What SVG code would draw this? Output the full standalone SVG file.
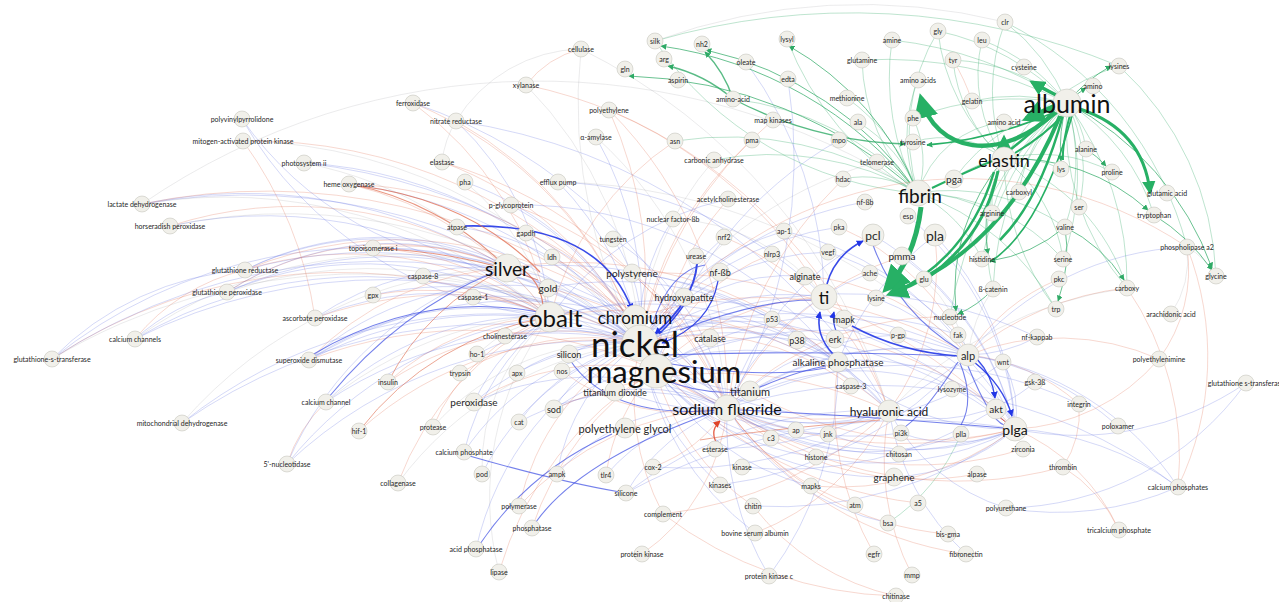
<svg xmlns="http://www.w3.org/2000/svg" width="1279" height="602" viewBox="0 0 1279 602">
<style>
.e path{fill:none}
.b{stroke:#5f6fe0;stroke-opacity:.38;stroke-width:.7}
.r{stroke:#e06a4c;stroke-opacity:.38;stroke-width:.7}
.g{stroke:#8e8e96;stroke-opacity:.3;stroke-width:.6}
.q{stroke:#2faa66;stroke-opacity:.45;stroke-width:.7}
.qa{stroke:#2faa66;stroke-opacity:.8;stroke-width:.9;marker-end:url(#ag)}
.Q{stroke:#27b065;stroke-width:4}
.B{stroke:#2236e6;stroke-width:1.6;stroke-opacity:.9}
.Bm{stroke:#3a4be3;stroke-width:1.1;stroke-opacity:.7}
.R{stroke:#e0442a;stroke-width:1.3;stroke-opacity:.85}
.n circle{fill:#f1f0ea;stroke:#c6c6bd;stroke-width:.6}
.n text{font-family:Lato,'Open Sans',sans-serif;font-size:7px;fill:#262626;text-anchor:middle;dominant-baseline:central}
.f9 text{font-size:9px}
.f10 text{font-size:10px}
.f11 text{font-size:11px}
.f12 text{font-size:12px}
.f14 text{font-size:14px}
.f16 text{font-size:16px}
.f17 text{font-size:17px}
.f18 text{font-size:18px}
.f19 text{font-size:19px}
.f24 text{font-size:24px}
.f25 text{font-size:25px}
.f31 text{font-size:31px}
.f35 text{font-size:35px}
.big text{fill:#111}
</style>
<defs>
<marker id="ag" viewBox="0 0 10 10" refX="9" refY="5" markerWidth="6" markerHeight="6" markerUnits="userSpaceOnUse" orient="auto"><path d="M0,0L10,5L0,10z" fill="#2faa66"/></marker>
<marker id="agT" viewBox="0 0 10 10" refX="8" refY="5" markerWidth="4.5" markerHeight="4.5" orient="auto"><path d="M0,0L10,5L0,10z" fill="#27b065"/></marker>
<marker id="agB" viewBox="0 0 10 10" refX="8" refY="5" markerWidth="5.5" markerHeight="5.5" orient="auto"><path d="M0,0L10,5L0,10z" fill="#27b065"/></marker>
<marker id="ab" viewBox="0 0 10 10" refX="9" refY="5" markerWidth="7" markerHeight="7" markerUnits="userSpaceOnUse" orient="auto"><path d="M0,0L10,5L0,10z" fill="#2236e6"/></marker>
<marker id="ar" viewBox="0 0 10 10" refX="9" refY="5" markerWidth="7" markerHeight="7" markerUnits="userSpaceOnUse" orient="auto"><path d="M0,0L10,5L0,10z" fill="#e0442a"/></marker>
</defs>
<rect width="1279" height="602" fill="#fff"/>
<g id="connectors" class="e">
<path class="r" d="M52 359A520 520 0 0 1 550 317"/>
<path class="b" d="M52 359A500 500 0 0 1 507 268"/>
<path class="g" d="M52 359A600 600 0 0 1 640 343"/>
<path class="b" d="M52 359A300 300 0 0 1 245 270"/>
<path class="b" d="M52 359A600 600 0 0 1 635 318"/>
<path class="b" d="M135 339A200 200 0 0 1 227 292"/>
<path class="b" d="M135 339A450 450 0 0 1 550 317"/>
<path class="g" d="M135 339A450 450 0 0 1 507 268"/>
<path class="b" d="M135 339A550 550 0 0 1 640 343"/>
<path class="r" d="M135 339A200 200 0 0 1 245 270"/>
<path class="b" d="M142 204A600 600 0 0 1 640 343"/>
<path class="g" d="M142 204A500 500 0 0 1 550 317"/>
<path class="b" d="M142 204A500 500 0 0 1 507 268"/>
<path class="r" d="M142 204A600 600 0 0 1 635 318"/>
<path class="g" d="M142 204A700 700 0 0 1 918 193"/>
<path class="b" d="M170 226A450 450 0 0 1 550 317"/>
<path class="g" d="M170 226A550 550 0 0 1 640 343"/>
<path class="r" d="M170 226A400 400 0 0 1 507 268"/>
<path class="r" d="M245 270A350 350 0 0 1 550 317"/>
<path class="b" d="M245 270A450 450 0 0 1 640 343"/>
<path class="b" d="M245 270A300 300 0 0 1 507 268"/>
<path class="r" d="M245 270A400 400 0 0 1 635 318"/>
<path class="b" d="M245 270A300 300 0 0 1 548 288"/>
<path class="b" d="M227 292A350 350 0 0 1 550 317"/>
<path class="b" d="M227 292A400 400 0 0 1 640 343"/>
<path class="r" d="M227 292A300 300 0 0 1 507 268"/>
<path class="b" d="M227 292A300 300 0 0 1 548 288"/>
<path class="g" d="M227 292A450 450 0 0 1 655 370"/>
<path class="r" d="M243 141A400 400 0 0 1 315 318"/>
<path class="b" d="M242 119A400 400 0 0 0 550 317"/>
<path class="b" d="M242 119A350 350 0 0 0 507 268"/>
<path class="r" d="M243 141A500 500 0 0 1 635 318"/>
<path class="g" d="M243 141A500 500 0 0 1 655 370"/>
<path class="b" d="M304 163A450 450 0 0 1 640 343"/>
<path class="g" d="M304 163A400 400 0 0 1 550 317"/>
<path class="b" d="M304 163A600 600 0 0 1 727 408"/>
<path class="r" d="M349 184A350 350 0 0 1 550 317"/>
<path class="r" d="M349 184A300 300 0 0 1 507 268" style="stroke-opacity:.7;stroke-width:1.1"/>
<path class="b" d="M349 184A450 450 0 0 1 640 343"/>
<path class="r" d="M349 184A400 400 0 0 1 635 318"/>
<path class="r" d="M373 248A300 300 0 0 1 550 317"/>
<path class="b" d="M373 248A400 400 0 0 1 640 343"/>
<path class="r" d="M373 248A250 250 0 0 1 507 268"/>
<path class="g" d="M423 276A250 250 0 0 1 550 317"/>
<path class="b" d="M423 276A300 300 0 0 1 640 343"/>
<path class="b" d="M373 295A350 350 0 0 1 640 343"/>
<path class="r" d="M373 295A300 300 0 0 1 550 317"/>
<path class="r" d="M473 297A200 200 0 0 1 550 317"/>
<path class="b" d="M473 297A250 250 0 0 1 640 343"/>
<path class="b" d="M315 318A300 300 0 0 1 550 317"/>
<path class="r" d="M315 318A400 400 0 0 1 640 343"/>
<path class="b" d="M315 318A300 300 0 0 1 507 268"/>
<path class="b" d="M309 360A300 300 0 0 1 550 317"/>
<path class="b" d="M309 360A400 400 0 0 1 640 343"/>
<path class="r" d="M309 360A300 300 0 0 1 507 268"/>
<path class="b" d="M309 360A300 300 0 0 1 548 288"/>
<path class="b" d="M309 360A400 400 0 0 1 635 318"/>
<path class="r" d="M309 360A450 450 0 0 1 655 370"/>
<path class="b" d="M326 402A300 300 0 0 1 550 317"/>
<path class="b" d="M326 402A400 400 0 0 1 640 343"/>
<path class="g" d="M326 402A400 400 0 0 1 635 318"/>
<path class="b" d="M182 423A500 500 0 0 1 550 317"/>
<path class="b" d="M182 423A550 550 0 0 1 640 343"/>
<path class="g" d="M182 423A450 450 0 0 1 507 268"/>
<path class="b" d="M287 464A400 400 0 0 1 550 317"/>
<path class="b" d="M287 464A450 450 0 0 1 640 343"/>
<path class="r" d="M287 464A150 150 0 0 1 326 402"/>
<path class="b" d="M287 464A350 350 0 0 1 507 268"/>
<path class="r" d="M388 382A250 250 0 0 1 550 317"/>
<path class="r" d="M388 382A300 300 0 0 1 640 343"/>
<path class="r" d="M388 382A250 250 0 0 1 507 268" style="stroke-opacity:.6;stroke-width:1"/>
<path class="r" d="M359 431A300 300 0 0 1 550 317" style="stroke-opacity:.6;stroke-width:1"/>
<path class="r" d="M359 431A350 350 0 0 1 640 343"/>
<path class="r" d="M433 427A200 200 0 0 1 550 317"/>
<path class="g" d="M433 427A250 250 0 0 1 640 343"/>
<path class="r" d="M398 483A300 300 0 0 1 550 317"/>
<path class="g" d="M398 483A350 350 0 0 1 640 343"/>
<path class="b" d="M464 452A250 250 0 0 1 640 343"/>
<path class="b" d="M464 452A250 250 0 0 1 550 317"/>
<path class="b" d="M482 474A250 250 0 0 1 640 343"/>
<path class="g" d="M482 474A200 200 0 0 1 550 317"/>
<path class="b" d="M476 549A300 300 0 0 1 640 343"/>
<path class="r" d="M499 572A350 350 0 0 1 655 370"/>
<path class="g" d="M499 572A300 300 0 0 1 550 317"/>
<path class="r" d="M519 506A250 250 0 0 1 640 343"/>
<path class="r" d="M519 506A300 300 0 0 1 727 408"/>
<path class="r" d="M532 528A300 300 0 0 1 655 370"/>
<path class="b" d="M557 474A200 200 0 0 1 727 408"/>
<path class="b" d="M557 474A200 200 0 0 1 640 343"/>
<path class="b" d="M606 475A200 200 0 0 1 727 408"/>
<path class="r" d="M606 475A200 200 0 0 1 655 370"/>
<path class="b" d="M626 493A200 200 0 0 1 727 408"/>
<path class="b" d="M626 493A400 400 0 0 1 889 411"/>
<path class="b" d="M626 493A600 600 0 0 1 1015 429"/>
<path class="b" d="M474 402A250 250 0 0 1 640 343"/>
<path class="b" d="M474 402A200 200 0 0 1 550 317"/>
<path class="b" d="M474 402A300 300 0 0 1 727 408"/>
<path class="r" d="M474 402A250 250 0 0 1 655 370"/>
<path class="b" d="M519 422A200 200 0 0 1 640 343"/>
<path class="b" d="M519 422A250 250 0 0 1 727 408"/>
<path class="b" d="M554 409A150 150 0 0 1 640 343"/>
<path class="b" d="M554 409A200 200 0 0 1 727 408"/>
<path class="b" d="M554 409A350 350 0 0 1 838 362"/>
<path class="r" d="M554 409A400 400 0 0 1 889 411"/>
<path class="b" d="M477 354A200 200 0 0 1 640 343"/>
<path class="g" d="M477 354A150 150 0 0 1 550 317"/>
<path class="r" d="M460 373A250 250 0 0 1 640 343"/>
<path class="b" d="M517 373A200 200 0 0 1 640 343"/>
<path class="b" d="M505 336A200 200 0 0 1 640 343"/>
<path class="b" d="M569 354A200 200 0 0 0 727 408"/>
<path class="b" d="M569 354A300 300 0 0 1 838 362"/>
<path class="r" d="M562 371A200 200 0 0 0 727 408"/>
<path class="r" d="M413 103A400 400 0 0 1 640 343"/>
<path class="r" d="M413 103A350 350 0 0 1 550 317"/>
<path class="b" d="M413 103A500 500 0 0 1 727 408"/>
<path class="r" d="M456 121A400 400 0 0 1 640 343"/>
<path class="b" d="M456 121A300 300 0 0 1 550 317"/>
<path class="b" d="M456 121A600 600 0 0 1 889 411"/>
<path class="g" d="M456 121A150 150 0 0 1 581 49"/>
<path class="g" d="M442 162A100 100 0 0 1 456 121"/>
<path class="r" d="M442 162A350 350 0 0 1 640 343"/>
<path class="r" d="M442 162A450 450 0 0 1 727 408"/>
<path class="b" d="M465 182A300 300 0 0 1 640 343"/>
<path class="g" d="M465 182A250 250 0 0 1 550 317"/>
<path class="b" d="M511 205A300 300 0 0 1 640 343"/>
<path class="r" d="M511 205A350 350 0 0 1 727 408"/>
<path class="b" d="M511 205A400 400 0 0 1 838 362"/>
<path class="g" d="M526 85A400 400 0 0 1 640 343"/>
<path class="r" d="M526 85A100 100 0 0 1 581 49"/>
<path class="r" d="M526 85A450 450 0 0 1 824 297"/>
<path class="g" d="M581 49A500 500 0 0 0 655 370"/>
<path class="g" d="M581 49A600 600 0 0 1 889 411"/>
<path class="r" d="M609 110A400 400 0 0 1 640 343"/>
<path class="r" d="M609 110A400 400 0 0 1 727 408"/>
<path class="r" d="M609 110A500 500 0 0 1 889 411"/>
<path class="b" d="M596 137A350 350 0 0 1 640 343"/>
<path class="g" d="M596 137A400 400 0 0 1 727 408"/>
<path class="b" d="M558 182A300 300 0 0 1 640 343"/>
<path class="b" d="M558 182A400 400 0 0 1 824 297"/>
<path class="g" d="M558 182A600 600 0 0 1 968 355"/>
<path class="b" d="M457 227A250 250 0 0 1 640 343"/>
<path class="r" d="M526 233A200 200 0 0 1 640 343"/>
<path class="r" d="M552 257A200 200 0 0 1 640 343"/>
<path class="b" d="M613 239A250 250 0 0 1 727 408"/>
<path class="b" d="M613 239A150 150 0 0 1 640 343"/>
<path class="r" d="M632 273A250 250 0 0 1 727 408"/>
<path class="b" d="M632 273A400 400 0 0 1 889 411"/>
<path class="r" d="M632 273A500 500 0 0 1 1015 429"/>
<path class="r" d="M548 288A300 300 0 0 1 727 408"/>
<path class="b" d="M548 288A350 350 0 0 1 838 362"/>
<path class="b" d="M507 268A350 350 0 0 1 727 408"/>
<path class="r" d="M507 268A400 400 0 0 1 838 362"/>
<path class="b" d="M507 268A450 450 0 0 1 889 411"/>
<path class="b" d="M550 317A250 250 0 0 1 727 408"/>
<path class="b" d="M550 317A350 350 0 0 1 838 362"/>
<path class="r" d="M550 317A400 400 0 0 1 889 411"/>
<path class="b" d="M550 317A500 500 0 0 1 1015 429"/>
<path class="b" d="M635 318A300 300 0 0 1 838 362"/>
<path class="b" d="M635 318A350 350 0 0 1 889 411"/>
<path class="r" d="M635 318A400 400 0 0 1 968 355"/>
<path class="b" d="M640 343A250 250 0 0 1 824 297"/>
<path class="b" d="M640 343A400 400 0 0 1 968 355"/>
<path class="b" d="M640 343A450 450 0 0 1 1015 429"/>
<path class="r" d="M640 343A400 400 0 0 1 996 409"/>
<path class="b" d="M640 343A300 300 0 0 0 889 411"/>
<path class="r" d="M655 370A300 300 0 0 0 889 411"/>
<path class="b" d="M655 370A400 400 0 0 1 968 355"/>
<path class="r" d="M655 370A450 450 0 0 0 1015 429"/>
<path class="r" d="M655 370A250 250 0 0 1 824 297"/>
<path class="b" d="M673 219A200 200 0 0 0 640 343"/>
<path class="g" d="M673 219A200 200 0 0 1 824 297"/>
<path class="b" d="M724 237A200 200 0 0 0 655 370"/>
<path class="r" d="M724 237A300 300 0 0 1 889 411"/>
<path class="b" d="M784 231A250 250 0 0 0 640 343"/>
<path class="b" d="M784 231A300 300 0 0 1 968 355"/>
<path class="b" d="M839 227A300 300 0 0 0 640 343"/>
<path class="r" d="M839 227A250 250 0 0 1 968 355"/>
<path class="r" d="M772 254A200 200 0 0 0 655 370"/>
<path class="b" d="M828 252A250 250 0 0 0 640 343"/>
<path class="b" d="M828 252A300 300 0 0 1 1015 429"/>
<path class="r" d="M902 256A300 300 0 0 0 727 408"/>
<path class="b" d="M902 256A300 300 0 0 1 1015 429"/>
<path class="Bm" d="M873 245A200 200 0 0 0 960 350"/>
<path class="b" d="M873 235A300 300 0 0 1 1015 429"/>
<path class="b" d="M873 235A300 300 0 0 0 727 408"/>
<path class="b" d="M935 235A300 300 0 0 1 1015 429"/>
<path class="b" d="M935 235A300 300 0 0 0 838 362"/>
<path class="r" d="M935 235A250 250 0 0 1 889 411"/>
<path class="b" d="M805 276A200 200 0 0 0 640 343"/>
<path class="r" d="M805 276A250 250 0 0 1 968 355"/>
<path class="b" d="M870 273A250 250 0 0 0 727 408"/>
<path class="b" d="M772 319A200 200 0 0 0 640 343"/>
<path class="b" d="M797 340A200 200 0 0 0 655 370"/>
<path class="b" d="M835 339A250 250 0 0 0 640 343"/>
<path class="b" d="M898 335A250 250 0 0 0 727 408"/>
<path class="b" d="M898 335A200 200 0 0 1 1015 429"/>
<path class="b" d="M838 362A250 250 0 0 0 1015 429"/>
<path class="b" d="M750 391A150 150 0 0 1 640 343"/>
<path class="b" d="M750 391A300 300 0 0 1 968 355"/>
<path class="r" d="M750 391A350 350 0 0 0 1015 429"/>
<path class="r" d="M851 386A250 250 0 0 0 640 343"/>
<path class="b" d="M727 408A250 250 0 0 0 889 411"/>
<path class="b" d="M727 408A350 350 0 0 0 1015 429"/>
<path class="b" d="M727 408A300 300 0 0 1 968 355"/>
<path class="b" d="M952 389A250 250 0 0 0 727 408"/>
<path class="r" d="M950 317A300 300 0 0 0 727 408"/>
<path class="b" d="M958 335A350 350 0 0 0 655 370"/>
<path class="b" d="M1037 337A450 450 0 0 0 640 343"/>
<path class="b" d="M1037 337A150 150 0 0 1 968 355"/>
<path class="b" d="M1003 362A300 300 0 0 1 727 408"/>
<path class="b" d="M1003 362A100 100 0 0 1 1015 429"/>
<path class="b" d="M1035 382A150 150 0 0 1 889 411"/>
<path class="b" d="M1079 404A400 400 0 0 0 727 408"/>
<path class="r" d="M1079 404A200 200 0 0 0 968 355"/>
<path class="b" d="M996 409A200 200 0 0 0 838 362"/>
<path class="b" d="M961 434A250 250 0 0 1 727 408"/>
<path class="r" d="M1023 449A350 350 0 0 1 727 408"/>
<path class="b" d="M1118 426A300 300 0 0 0 968 355"/>
<path class="r" d="M1063 467A400 400 0 0 1 727 408"/>
<path class="r" d="M1063 467A100 100 0 0 0 1079 404"/>
<path class="r" d="M1063 467A150 150 0 0 1 1119 530"/>
<path class="r" d="M977 474A300 300 0 0 1 727 408"/>
<path class="b" d="M1006 508A200 200 0 0 1 889 411"/>
<path class="b" d="M1006 508A300 300 0 0 0 1178 487"/>
<path class="b" d="M1178 487A300 300 0 0 0 968 355"/>
<path class="b" d="M1178 487A300 300 0 0 0 1015 429"/>
<path class="b" d="M1178 487A500 500 0 0 0 727 408"/>
<path class="r" d="M1178 487A300 300 0 0 0 1187 247"/>
<path class="r" d="M1119 530A200 200 0 0 0 1015 429"/>
<path class="b" d="M1246 383A300 300 0 0 1 1006 508"/>
<path class="b" d="M1246 383A300 300 0 0 1 1015 429"/>
<path class="r" d="M1159 359A250 250 0 0 0 968 355"/>
<path class="r" d="M1159 359A200 200 0 0 1 1015 429"/>
<path class="r" d="M1159 359A150 150 0 0 0 1187 247"/>
<path class="g" d="M1171 314A100 100 0 0 0 1187 247"/>
<path class="b" d="M1187 247A300 300 0 0 0 968 355"/>
<path class="r" d="M1127 288A300 300 0 0 0 968 355"/>
<path class="r" d="M1127 288A300 300 0 0 1 1178 487"/>
<path class="g" d="M1216 276A80 80 0 0 0 1187 247"/>
<path class="r" d="M948 534A300 300 0 0 1 727 408"/>
<path class="r" d="M966 554A350 350 0 0 1 727 408"/>
<path class="b" d="M966 554A250 250 0 0 1 889 411"/>
<path class="q" d="M888 523A200 200 0 0 0 961 434"/>
<path class="b" d="M888 523A250 250 0 0 1 727 408"/>
<path class="r" d="M874 554A300 300 0 0 1 838 362"/>
<path class="r" d="M912 575A250 250 0 0 1 889 411"/>
<path class="r" d="M896 596A250 250 0 0 1 753 506"/>
<path class="r" d="M896 596A400 400 0 0 1 663 514"/>
<path class="b" d="M769 576A300 300 0 0 1 727 408"/>
<path class="b" d="M769 576A350 350 0 0 0 838 362"/>
<path class="b" d="M755 533A300 300 0 0 1 640 343"/>
<path class="r" d="M755 533A250 250 0 0 0 889 411"/>
<path class="r" d="M642 554A200 200 0 0 0 727 408"/>
<path class="r" d="M663 514A250 250 0 0 1 640 343"/>
<path class="r" d="M663 514A400 400 0 0 0 889 411"/>
<path class="r" d="M753 506A250 250 0 0 1 655 370"/>
<path class="b" d="M753 506A400 400 0 0 0 1015 429"/>
<path class="b" d="M720 485A250 250 0 0 1 640 343"/>
<path class="b" d="M720 485A400 400 0 0 0 968 355"/>
<path class="b" d="M742 467A400 400 0 0 0 996 409"/>
<path class="b" d="M653 467A400 400 0 0 0 889 411"/>
<path class="r" d="M653 467A150 150 0 0 0 727 408"/>
<path class="b" d="M715 449A400 400 0 0 0 968 355"/>
<path class="b" d="M811 486A250 250 0 0 1 655 370"/>
<path class="r" d="M811 486A300 300 0 0 0 1015 429"/>
<path class="r" d="M855 505A250 250 0 0 1 727 408"/>
<path class="r" d="M918 503A400 400 0 0 1 640 343"/>
<path class="b" d="M894 477A300 300 0 0 1 655 370"/>
<path class="b" d="M894 477A200 200 0 0 0 1015 429"/>
<path class="b" d="M899 454A350 350 0 0 1 640 343"/>
<path class="b" d="M901 433A300 300 0 0 1 640 343"/>
<path class="b" d="M901 433A150 150 0 0 0 1015 429"/>
<path class="b" d="M828 434A250 250 0 0 1 655 370"/>
<path class="b" d="M828 434A250 250 0 0 0 1015 429"/>
<path class="b" d="M796 430A250 250 0 0 1 640 343"/>
<path class="b" d="M771 438A200 200 0 0 1 655 370"/>
<path class="b" d="M816 457A250 250 0 0 1 655 370"/>
<path class="b" d="M816 457A300 300 0 0 0 1015 429"/>
<path class="g" d="M877 162A400 400 0 0 0 640 343"/>
<path class="r" d="M843 179A400 400 0 0 0 727 408"/>
<path class="b" d="M839 140A400 400 0 0 0 655 370"/>
<path class="r" d="M752 140A350 350 0 0 0 640 343"/>
<path class="g" d="M714 160A300 300 0 0 0 640 343"/>
<path class="r" d="M728 199A300 300 0 0 0 655 370"/>
<path class="b" d="M728 199A300 300 0 0 0 550 317"/>
<path class="r" d="M675 141A300 300 0 0 0 550 317"/>
<path class="r" d="M773 120A400 400 0 0 0 640 343"/>
<path class="b" d="M788 79A500 500 0 0 1 727 408"/>
<path class="b" d="M746 62A400 400 0 0 1 824 297"/>
<path class="b" d="M865 202A350 350 0 0 0 640 343"/>
<path class="b" d="M908 216A300 300 0 0 1 1015 429"/>
<path class="g" d="M924 279A150 150 0 0 1 968 355"/>
<path class="b" d="M876 298A250 250 0 0 1 1015 429"/>
<path class="r" d="M972 101A200 200 0 0 0 953 60"/>
<path class="g" d="M655 41A600 600 0 0 1 1005 22"/>
<path class="q" d="M655 41A700 700 0 0 1 1119 66"/>
<path class="q" d="M1067 103A200 200 0 0 0 1005 22"/>
<path class="q" d="M1067 103A200 200 0 0 0 982 40"/>
<path class="q" d="M1067 103A200 200 0 0 0 953 60"/>
<path class="q" d="M1067 103A250 250 0 0 0 938 31"/>
<path class="qa" d="M1067 103A150 150 0 0 1 1111 66"/>
<path class="qa" d="M1067 103A100 100 0 0 1 1086 88"/>
<path class="q" d="M1067 103A200 200 0 0 0 972 101"/>
<path class="q" d="M1067 103A100 100 0 0 1 1086 149"/>
<path class="qa" d="M1067 103A150 150 0 0 0 1061 161"/>
<path class="qa" d="M1086 149A100 100 0 0 1 1106 166"/>
<path class="q" d="M1067 103A150 150 0 0 0 1019 192"/>
<path class="q" d="M1067 103A150 150 0 0 1 1079 207"/>
<path class="q" d="M1067 103A200 200 0 0 1 1154 215"/>
<path class="q" d="M1067 103A200 200 0 0 0 992 213"/>
<path class="q" d="M1067 103A200 200 0 0 1 1065 227"/>
<path class="q" d="M1067 103A300 300 0 0 0 982 259"/>
<path class="q" d="M1067 103A250 250 0 0 1 1063 259"/>
<path class="qa" d="M1067 103A300 300 0 0 1 1212 268"/>
<path class="q" d="M1067 103A300 300 0 0 1 1127 288"/>
<path class="q" d="M1067 103A300 300 0 0 0 993 289"/>
<path class="q" d="M1067 103A300 300 0 0 0 913 118"/>
<path class="q" d="M1067 103A200 200 0 0 0 954 179"/>
<path class="q" d="M1067 103A400 400 0 0 0 862 60"/>
<path class="q" d="M1067 103A400 400 0 0 0 892 40"/>
<path class="q" d="M1067 103A350 350 0 0 0 950 317"/>
<path class="q" d="M1004 159A200 200 0 0 1 1005 22"/>
<path class="q" d="M1004 159A200 200 0 0 1 938 31"/>
<path class="q" d="M1004 159A150 150 0 0 1 953 60"/>
<path class="q" d="M1004 159A150 150 0 0 1 982 40"/>
<path class="q" d="M1004 159A200 200 0 0 1 1119 66"/>
<path class="q" d="M1004 159A100 100 0 0 1 1061 169"/>
<path class="q" d="M1004 159A150 150 0 0 1 1112 172"/>
<path class="qa" d="M1004 159A200 200 0 0 1 1148 210"/>
<path class="q" d="M1004 159A100 100 0 0 0 992 213"/>
<path class="qa" d="M1004 159A150 150 0 0 0 988 254"/>
<path class="q" d="M1004 159A200 200 0 0 0 993 289"/>
<path class="qa" d="M1004 159A200 200 0 0 0 956 311"/>
<path class="q" d="M1004 159A150 150 0 0 1 1063 259"/>
<path class="q" d="M1004 159A200 200 0 0 1 1127 288"/>
<path class="q" d="M1004 159A100 100 0 0 0 913 142"/>
<path class="q" d="M1004 159A100 100 0 0 0 954 179"/>
<path class="qa" d="M918 193A400 400 0 0 0 661 46"/>
<path class="qa" d="M918 193A350 350 0 0 0 706 50"/>
<path class="qa" d="M918 193A300 300 0 0 0 789 46"/>
<path class="q" d="M918 193A300 300 0 0 0 733 99"/>
<path class="qa" d="M918 193A450 450 0 0 0 629 76"/>
<path class="q" d="M918 193A200 200 0 0 0 847 98"/>
<path class="q" d="M918 193A150 150 0 0 0 858 122"/>
<path class="q" d="M918 193A100 100 0 0 0 913 118"/>
<path class="q" d="M918 193A200 200 0 0 1 862 60"/>
<path class="q" d="M918 193A250 250 0 0 1 892 40"/>
<path class="q" d="M918 193A200 200 0 0 1 938 31"/>
<path class="q" d="M918 193A150 150 0 0 1 918 80"/>
<path class="q" d="M918 193A100 100 0 0 0 843 179"/>
<path class="q" d="M918 193A150 150 0 0 1 982 259"/>
<path class="q" d="M918 193A150 150 0 0 1 992 213"/>
<path class="q" d="M918 193A200 200 0 0 1 1065 227"/>
<path class="q" d="M918 193A250 250 0 0 1 1056 309"/>
<path class="q" d="M918 193A200 200 0 0 1 1063 259"/>
<path class="q" d="M918 193A100 100 0 0 1 1004 122"/>
<path class="q" d="M918 193A350 350 0 0 0 675 141"/>
<path class="q" d="M918 193A300 300 0 0 0 714 160"/>
<path class="q" d="M918 193A300 300 0 0 1 787 39"/>
<path class="q" d="M918 193A350 350 0 0 1 655 41"/>
<path class="qa" d="M733 99A120 120 0 0 0 705 52" style="stroke-width:1.4"/>
<path class="qa" d="M733 99A150 150 0 0 0 668 66" style="stroke-width:1.4"/>
<path class="qa" d="M733 99A400 400 0 0 0 905 144" style="stroke-width:1.3"/>
<path class="qa" d="M1065 227A150 150 0 0 1 1124 280"/>
<path class="qa" d="M1065 227A150 150 0 0 1 1058 301"/>
<path class="qa" d="M1065 227A150 150 0 0 1 990 261"/>
<path class="qa" d="M1154 215A200 200 0 0 1 1212 270"/>
<path class="qa" d="M993 289A100 100 0 0 1 958 314"/>
<path class="q" d="M1067 103A250 250 0 0 0 1127 288"/>
<path class="q" d="M1004 159A250 250 0 0 0 1056 309"/>
<path class="q" d="M1119 66A300 300 0 0 1 1216 276"/>
<path class="q" d="M1005 22A350 350 0 0 1 1187 247"/>
<path class="r" d="M1187 247A400 400 0 0 0 640 343"/>
<path class="g" d="M1127 288A400 400 0 0 0 889 411"/>
<path class="r" d="M1059 279A200 200 0 0 0 968 355"/>
<path class="g" d="M993 289A150 150 0 0 0 968 355"/>
<path class="Q" d="M1055 112C1000 165 935 152 921 98" marker-end="url(#agB)" style="stroke-width:4.5"/>
<path class="Q" d="M1056 95Q1042 88 1032 82" marker-end="url(#agT)" style="stroke-width:3.5"/>
<path class="Q" d="M1055 106L1026 119" marker-end="url(#agT)" style="stroke-width:5"/>
<path class="Q" d="M1060 107L1030 116" style="stroke-width:3"/>
<path class="Q" d="M1004 148L1004 138" marker-end="url(#agT)" style="stroke-width:4"/>
<path class="Q" d="M1080 109Q1143 130 1150 192" marker-end="url(#agT)" style="stroke-width:3"/>
<path class="Q" d="M921 207Q915 258 886 289" marker-end="url(#agB)" style="stroke-width:5"/>
<path class="Q" d="M1060 116Q1005 250 890 294" marker-end="url(#agB)" style="stroke-width:4"/>
<path class="Q" d="M998 171Q985 235 930 276" style="stroke-width:3"/>
<path class="Q" d="M994 172Q968 258 892 294" style="stroke-width:2.5"/>
<path class="Q" d="M1063 115Q1040 200 1000 240" style="stroke-width:2.5"/>
<path class="Q" d="M1010 150Q1040 125 1058 112" style="stroke-width:2.5"/>
<path class="Q" d="M1015 153Q1045 135 1062 116" style="stroke-width:2"/>
<path class="Q" d="M1055 112Q990 140 927 145" marker-end="url(#ag)" style="stroke-width:1.8"/>
<path class="Q" d="M1070 115Q1062 145 1063 160" style="stroke-width:2"/>
<path class="Q" d="M932 188Q970 170 995 160" style="stroke-width:2"/>
<path class="Q" d="M1072 116Q1040 230 990 262" style="stroke-width:1.6"/>
<path class="B" d="M462 226Q600 222 632 310" marker-end="url(#ab)"/>
<path class="B" d="M697 264Q694 300 655 334" marker-end="url(#ab)" style="stroke-width:2"/>
<path class="B" d="M684 305Q672 322 659 334" style="stroke-width:1.4"/>
<path class="B" d="M718 281Q710 325 662 343" marker-end="url(#ab)" style="stroke-width:1.3"/>
<path class="B" d="M827 284Q835 255 863 241" marker-end="url(#ab)"/>
<path class="B" d="M833 354Q815 335 820 312" marker-end="url(#ab)"/>
<path class="B" d="M836 331Q832 320 834 312" marker-end="url(#ab)" style="stroke-width:1.2"/>
<path class="B" d="M958 356Q900 352 852 326" style="stroke-width:1.5"/>
<path class="B" d="M974 362Q1003 385 1012 416" marker-end="url(#ab)" style="stroke-width:1.4"/>
<path class="B" d="M977 359Q992 375 995 398" marker-end="url(#ab)" style="stroke-width:1.2"/>
<path class="Bm" d="M968 366Q990 420 1004 425"/>
<path class="Bm" d="M960 363Q975 400 961 425"/>
<path class="Bm" d="M958 362Q920 420 900 430"/>
<path class="Bm" d="M466 455Q560 482 620 492"/>
<path class="Bm" d="M480 544Q530 470 612 434"/>
<path class="Bm" d="M536 522Q580 460 714 412"/>
<path class="Bm" d="M758 388Q800 370 826 366"/>
<path class="Bm" d="M312 355Q420 290 538 312"/>
<path class="Bm" d="M328 398Q400 310 495 272"/>
<path class="Bm" d="M740 410Q850 415 1004 428"/>
<path class="Bm" d="M660 378Q700 395 740 392"/>
<path class="Bm" d="M660 362Q760 380 826 368"/>
<path class="Bm" d="M665 355Q800 350 955 356"/>
<path class="Bm" d="M652 325Q670 270 705 265"/>
<path class="Bm" d="M570 360Q610 420 720 410"/>
<path class="Bm" d="M680 330Q760 300 812 300"/>
<path class="R" d="M716 442Q710 430 720 421" marker-end="url(#ar)"/>
<path class="R" d="M998 416Q1006 422 1010 426" marker-end="url(#ar)" style="stroke-width:1"/>
<path class="r" d="M360 186Q470 200 540 272" style="stroke-opacity:.75;stroke-width:1.2"/>
<path class="r" d="M362 248Q460 250 538 280" style="stroke-opacity:.7;stroke-width:1"/>
<path class="r" d="M520 268Q540 280 543 305" style="stroke-opacity:.8;stroke-width:1.2"/>
<path class="r" d="M700 440Q760 430 880 420" style="stroke-opacity:.6;stroke-width:1"/>
</g>
<g id="nodes">
<g id="n-pvp" class="n"><circle cx="242" cy="119" r="8"/><text x="242" y="119">polyvinylpyrrolidone</text></g>
<g id="n-mapkinase" class="n"><circle cx="243" cy="141" r="8"/><text x="243" y="141">mitogen-activated protein kinase</text></g>
<g id="n-photosystem" class="n"><circle cx="304" cy="163" r="8"/><text x="304" y="163">photosystem ii</text></g>
<g id="n-ldh2" class="n"><circle cx="142" cy="204" r="8"/><text x="142" y="204">lactate dehydrogenase</text></g>
<g id="n-hrp" class="n"><circle cx="170" cy="226" r="8"/><text x="170" y="226">horseradish peroxidase</text></g>
<g id="n-gr" class="n"><circle cx="245" cy="270" r="8"/><text x="245" y="270">glutathione reductase</text></g>
<g id="n-gpx2" class="n"><circle cx="227" cy="292" r="8"/><text x="227" y="292">glutathione peroxidase</text></g>
<g id="n-cachannels" class="n"><circle cx="135" cy="339" r="8"/><text x="135" y="339">calcium channels</text></g>
<g id="n-gst" class="n"><circle cx="52" cy="359" r="8"/><text x="52" y="359">glutathione-s-transferase</text></g>
<g id="n-apx2" class="n"><circle cx="315" cy="318" r="8"/><text x="315" y="318">ascorbate peroxidase</text></g>
<g id="n-sod2" class="n"><circle cx="309" cy="360" r="8"/><text x="309" y="360">superoxide dismutase</text></g>
<g id="n-cachannel" class="n"><circle cx="326" cy="402" r="8"/><text x="326" y="402">calcium channel</text></g>
<g id="n-mitodh" class="n"><circle cx="182" cy="423" r="8"/><text x="182" y="423">mitochondrial dehydrogenase</text></g>
<g id="n-5nuc" class="n"><circle cx="287" cy="464" r="8"/><text x="287" y="464">5'-nucleotidase</text></g>
<g id="n-cellulase" class="n"><circle cx="581" cy="49" r="8"/><text x="581" y="49">cellulase</text></g>
<g id="n-gln" class="n"><circle cx="625" cy="69" r="8"/><text x="625" y="69">gln</text></g>
<g id="n-xylanase" class="n"><circle cx="526" cy="85" r="8"/><text x="526" y="85">xylanase</text></g>
<g id="n-ferroxidase" class="n"><circle cx="413" cy="103" r="8"/><text x="413" y="103">ferroxidase</text></g>
<g id="n-nitrate" class="n"><circle cx="456" cy="121" r="8"/><text x="456" y="121">nitrate reductase</text></g>
<g id="n-polyethylene" class="n"><circle cx="609" cy="110" r="8"/><text x="609" y="110">polyethylene</text></g>
<g id="n-amylase" class="n"><circle cx="596" cy="137" r="8"/><text x="596" y="137">α-amylase</text></g>
<g id="n-elastase" class="n"><circle cx="442" cy="162" r="8"/><text x="442" y="162">elastase</text></g>
<g id="n-pha" class="n"><circle cx="465" cy="182" r="8"/><text x="465" y="182">pha</text></g>
<g id="n-efflux" class="n"><circle cx="558" cy="182" r="8"/><text x="558" y="182">efflux pump</text></g>
<g id="n-heme" class="n"><circle cx="349" cy="184" r="8"/><text x="349" y="184">heme oxygenase</text></g>
<g id="n-pglyco" class="n"><circle cx="511" cy="205" r="8"/><text x="511" y="205">p-glycoprotein</text></g>
<g id="n-silk" class="n"><circle cx="655" cy="41" r="8"/><text x="655" y="41">silk</text></g>
<g id="n-nh2" class="n"><circle cx="702" cy="44" r="8"/><text x="702" y="44">nh2</text></g>
<g id="n-arg" class="n"><circle cx="664" cy="59" r="8"/><text x="664" y="59">arg</text></g>
<g id="n-lysyl" class="n"><circle cx="787" cy="39" r="8"/><text x="787" y="39">lysyl</text></g>
<g id="n-amine" class="n"><circle cx="892" cy="40" r="8"/><text x="892" y="40">amine</text></g>
<g id="n-gly" class="n"><circle cx="938" cy="31" r="8"/><text x="938" y="31">gly</text></g>
<g id="n-oleate" class="n"><circle cx="746" cy="62" r="8"/><text x="746" y="62">oleate</text></g>
<g id="n-glutamine" class="n"><circle cx="862" cy="60" r="8"/><text x="862" y="60">glutamine</text></g>
<g id="n-tyr" class="n"><circle cx="953" cy="60" r="8"/><text x="953" y="60">tyr</text></g>
<g id="n-aspirin" class="n"><circle cx="678" cy="80" r="8"/><text x="678" y="80">aspirin</text></g>
<g id="n-edta" class="n"><circle cx="788" cy="79" r="8"/><text x="788" y="79">edta</text></g>
<g id="n-aminoacids" class="n"><circle cx="918" cy="80" r="8"/><text x="918" y="80">amino acids</text></g>
<g id="n-amino-acid" class="n"><circle cx="733" cy="99" r="8"/><text x="733" y="99">amino-acid</text></g>
<g id="n-methionine" class="n"><circle cx="847" cy="98" r="8"/><text x="847" y="98">methionine</text></g>
<g id="n-mapkinases" class="n"><circle cx="773" cy="120" r="8"/><text x="773" y="120">map kinases</text></g>
<g id="n-ala" class="n"><circle cx="858" cy="122" r="8"/><text x="858" y="122">ala</text></g>
<g id="n-phe" class="n"><circle cx="913" cy="118" r="8"/><text x="913" y="118">phe</text></g>
<g id="n-asn" class="n"><circle cx="675" cy="141" r="8"/><text x="675" y="141">asn</text></g>
<g id="n-pma" class="n"><circle cx="752" cy="140" r="8"/><text x="752" y="140">pma</text></g>
<g id="n-mpo" class="n"><circle cx="839" cy="140" r="8"/><text x="839" y="140">mpo</text></g>
<g id="n-tyrosine" class="n"><circle cx="913" cy="142" r="8"/><text x="913" y="142">tyrosine</text></g>
<g id="n-carbonic" class="n"><circle cx="714" cy="160" r="8"/><text x="714" y="160">carbonic anhydrase</text></g>
<g id="n-telomerase" class="n"><circle cx="877" cy="162" r="8"/><text x="877" y="162">telomerase</text></g>
<g id="n-hdac" class="n"><circle cx="843" cy="179" r="8"/><text x="843" y="179">hdac</text></g>
<g id="n-pga" class="n f10"><circle cx="954" cy="179" r="9"/><text x="954" y="179">pga</text></g>
<g id="n-ache2" class="n"><circle cx="728" cy="199" r="8"/><text x="728" y="199">acetylcholinesterase</text></g>
<g id="n-nfkb1" class="n"><circle cx="865" cy="202" r="8"/><text x="865" y="202">nf-ßb</text></g>
<g id="n-clr" class="n"><circle cx="1005" cy="22" r="8"/><text x="1005" y="22">clr</text></g>
<g id="n-leu" class="n"><circle cx="982" cy="40" r="8"/><text x="982" y="40">leu</text></g>
<g id="n-cysteine" class="n"><circle cx="1024" cy="67" r="8"/><text x="1024" y="67">cysteine</text></g>
<g id="n-lysines" class="n"><circle cx="1119" cy="66" r="8"/><text x="1119" y="66">lysines</text></g>
<g id="n-amino" class="n"><circle cx="1093" cy="86" r="8"/><text x="1093" y="86">amino</text></g>
<g id="n-gelatin" class="n"><circle cx="972" cy="101" r="8"/><text x="972" y="101">gelatin</text></g>
<g id="n-aminoacid" class="n"><circle cx="1004" cy="122" r="8"/><text x="1004" y="122">amino acid</text></g>
<g id="n-alanine" class="n"><circle cx="1086" cy="149" r="8"/><text x="1086" y="149">alanine</text></g>
<g id="n-lys" class="n"><circle cx="1061" cy="169" r="8"/><text x="1061" y="169">lys</text></g>
<g id="n-proline" class="n"><circle cx="1112" cy="172" r="8"/><text x="1112" y="172">proline</text></g>
<g id="n-carboxyl" class="n"><circle cx="1019" cy="192" r="8"/><text x="1019" y="192">carboxyl</text></g>
<g id="n-glutamic" class="n"><circle cx="1167" cy="193" r="8"/><text x="1167" y="193">glutamic acid</text></g>
<g id="n-ser" class="n"><circle cx="1079" cy="207" r="8"/><text x="1079" y="207">ser</text></g>
<g id="n-tryptophan" class="n"><circle cx="1154" cy="215" r="8"/><text x="1154" y="215">tryptophan</text></g>
<g id="n-arginine" class="n"><circle cx="992" cy="213" r="8"/><text x="992" y="213">arginine</text></g>
<g id="n-valine" class="n"><circle cx="1065" cy="227" r="8"/><text x="1065" y="227">valine</text></g>
<g id="n-pla2" class="n"><circle cx="1187" cy="247" r="8"/><text x="1187" y="247">phospholipase a2</text></g>
<g id="n-histidine" class="n"><circle cx="982" cy="259" r="8"/><text x="982" y="259">histidine</text></g>
<g id="n-serine" class="n"><circle cx="1063" cy="259" r="8"/><text x="1063" y="259">serine</text></g>
<g id="n-glycine" class="n"><circle cx="1216" cy="276" r="8"/><text x="1216" y="276">glycine</text></g>
<g id="n-pkc" class="n"><circle cx="1059" cy="279" r="8"/><text x="1059" y="279">pkc</text></g>
<g id="n-bcatenin" class="n"><circle cx="993" cy="289" r="8"/><text x="993" y="289">ß-catenin</text></g>
<g id="n-carboxy" class="n"><circle cx="1127" cy="288" r="8"/><text x="1127" y="288">carboxy</text></g>
<g id="n-trp" class="n"><circle cx="1056" cy="309" r="8"/><text x="1056" y="309">trp</text></g>
<g id="n-nucleotide" class="n"><circle cx="950" cy="317" r="8"/><text x="950" y="317">nucleotide</text></g>
<g id="n-arachidonic" class="n"><circle cx="1171" cy="314" r="8"/><text x="1171" y="314">arachidonic acid</text></g>
<g id="n-fak" class="n"><circle cx="958" cy="335" r="8"/><text x="958" y="335">fak</text></g>
<g id="n-nfkappab" class="n"><circle cx="1037" cy="337" r="8"/><text x="1037" y="337">nf-kappab</text></g>
<g id="n-wnt" class="n"><circle cx="1003" cy="362" r="8"/><text x="1003" y="362">wnt</text></g>
<g id="n-pei" class="n"><circle cx="1159" cy="359" r="8"/><text x="1159" y="359">polyethylenimine</text></g>
<g id="n-gsk" class="n"><circle cx="1035" cy="382" r="8"/><text x="1035" y="382">gsk-3ß</text></g>
<g id="n-gst2" class="n"><circle cx="1246" cy="383" r="8"/><text x="1246" y="383">glutathione s-transferase</text></g>
<g id="n-integrin" class="n"><circle cx="1079" cy="404" r="8"/><text x="1079" y="404">integrin</text></g>
<g id="n-lysozyme" class="n"><circle cx="952" cy="389" r="8"/><text x="952" y="389">lysozyme</text></g>
<g id="n-plla" class="n"><circle cx="961" cy="434" r="8"/><text x="961" y="434">plla</text></g>
<g id="n-zirconia" class="n"><circle cx="1023" cy="449" r="8"/><text x="1023" y="449">zirconia</text></g>
<g id="n-poloxamer" class="n"><circle cx="1118" cy="426" r="8"/><text x="1118" y="426">poloxamer</text></g>
<g id="n-alpase" class="n"><circle cx="977" cy="474" r="8"/><text x="977" y="474">alpase</text></g>
<g id="n-thrombin" class="n"><circle cx="1063" cy="467" r="8"/><text x="1063" y="467">thrombin</text></g>
<g id="n-caphosphates" class="n"><circle cx="1178" cy="487" r="8"/><text x="1178" y="487">calcium phosphates</text></g>
<g id="n-polyurethane" class="n"><circle cx="1006" cy="508" r="8"/><text x="1006" y="508">polyurethane</text></g>
<g id="n-bisgma" class="n"><circle cx="948" cy="534" r="8"/><text x="948" y="534">bis-gma</text></g>
<g id="n-fibronectin" class="n"><circle cx="966" cy="554" r="8"/><text x="966" y="554">fibronectin</text></g>
<g id="n-tcp" class="n"><circle cx="1119" cy="530" r="8"/><text x="1119" y="530">tricalcium phosphate</text></g>
<g id="n-nfkbnuc" class="n"><circle cx="673" cy="219" r="8"/><text x="673" y="219">nuclear factor-ßb</text></g>
<g id="n-nrf2" class="n"><circle cx="724" cy="237" r="8"/><text x="724" y="237">nrf2</text></g>
<g id="n-ap1" class="n"><circle cx="784" cy="231" r="8"/><text x="784" y="231">ap-1</text></g>
<g id="n-pka" class="n"><circle cx="839" cy="227" r="8"/><text x="839" y="227">pka</text></g>
<g id="n-esp" class="n"><circle cx="908" cy="216" r="8"/><text x="908" y="216">esp</text></g>
<g id="n-urease" class="n"><circle cx="696" cy="256" r="8"/><text x="696" y="256">urease</text></g>
<g id="n-nlrp3" class="n"><circle cx="772" cy="254" r="8"/><text x="772" y="254">nlrp3</text></g>
<g id="n-vegf" class="n"><circle cx="828" cy="252" r="8"/><text x="828" y="252">vegf</text></g>
<g id="n-ache" class="n"><circle cx="870" cy="273" r="8"/><text x="870" y="273">ache</text></g>
<g id="n-glu" class="n"><circle cx="924" cy="279" r="8"/><text x="924" y="279">glu</text></g>
<g id="n-lysine" class="n"><circle cx="876" cy="298" r="8"/><text x="876" y="298">lysine</text></g>
<g id="n-p53" class="n"><circle cx="772" cy="319" r="8"/><text x="772" y="319">p53</text></g>
<g id="n-pgp" class="n"><circle cx="898" cy="335" r="8"/><text x="898" y="335">p-gp</text></g>
<g id="n-caspase3" class="n"><circle cx="851" cy="386" r="8"/><text x="851" y="386">caspase-3</text></g>
<g id="n-atpase" class="n"><circle cx="457" cy="227" r="8"/><text x="457" y="227">atpase</text></g>
<g id="n-gapdh" class="n"><circle cx="526" cy="233" r="8"/><text x="526" y="233">gapdh</text></g>
<g id="n-tungsten" class="n"><circle cx="613" cy="239" r="8"/><text x="613" y="239">tungsten</text></g>
<g id="n-topo" class="n"><circle cx="373" cy="248" r="8"/><text x="373" y="248">topoisomerase i</text></g>
<g id="n-ldh" class="n"><circle cx="552" cy="257" r="8"/><text x="552" y="257">ldh</text></g>
<g id="n-caspase8" class="n"><circle cx="423" cy="276" r="8"/><text x="423" y="276">caspase-8</text></g>
<g id="n-gpx" class="n"><circle cx="373" cy="295" r="8"/><text x="373" y="295">gpx</text></g>
<g id="n-caspase1" class="n"><circle cx="473" cy="297" r="8"/><text x="473" y="297">caspase-1</text></g>
<g id="n-cholinesterase" class="n"><circle cx="505" cy="336" r="8"/><text x="505" y="336">cholinesterase</text></g>
<g id="n-ho1" class="n"><circle cx="477" cy="354" r="8"/><text x="477" y="354">ho-1</text></g>
<g id="n-trypsin" class="n"><circle cx="460" cy="373" r="8"/><text x="460" y="373">trypsin</text></g>
<g id="n-apx" class="n"><circle cx="517" cy="373" r="8"/><text x="517" y="373">apx</text></g>
<g id="n-nos" class="n"><circle cx="562" cy="371" r="8"/><text x="562" y="371">nos</text></g>
<g id="n-insulin" class="n"><circle cx="388" cy="382" r="8"/><text x="388" y="382">insulin</text></g>
<g id="n-cat" class="n"><circle cx="519" cy="422" r="8"/><text x="519" y="422">cat</text></g>
<g id="n-hif1" class="n"><circle cx="359" cy="431" r="8"/><text x="359" y="431">hif-1</text></g>
<g id="n-protease" class="n"><circle cx="433" cy="427" r="8"/><text x="433" y="427">protease</text></g>
<g id="n-caphosphate" class="n"><circle cx="464" cy="452" r="8"/><text x="464" y="452">calcium phosphate</text></g>
<g id="n-pod" class="n"><circle cx="482" cy="474" r="8"/><text x="482" y="474">pod</text></g>
<g id="n-ampk" class="n"><circle cx="557" cy="474" r="8"/><text x="557" y="474">ampk</text></g>
<g id="n-tlr4" class="n"><circle cx="606" cy="475" r="8"/><text x="606" y="475">tlr4</text></g>
<g id="n-collagenase" class="n"><circle cx="398" cy="483" r="8"/><text x="398" y="483">collagenase</text></g>
<g id="n-silicone" class="n"><circle cx="626" cy="493" r="8"/><text x="626" y="493">silicone</text></g>
<g id="n-polymerase" class="n"><circle cx="519" cy="506" r="8"/><text x="519" y="506">polymerase</text></g>
<g id="n-phosphatase" class="n"><circle cx="532" cy="528" r="8"/><text x="532" y="528">phosphatase</text></g>
<g id="n-acidphos" class="n"><circle cx="476" cy="549" r="8"/><text x="476" y="549">acid phosphatase</text></g>
<g id="n-lipase" class="n"><circle cx="499" cy="572" r="8"/><text x="499" y="572">lipase</text></g>
<g id="n-ap" class="n"><circle cx="796" cy="430" r="8"/><text x="796" y="430">ap</text></g>
<g id="n-jnk" class="n"><circle cx="828" cy="434" r="8"/><text x="828" y="434">jnk</text></g>
<g id="n-pi3k" class="n"><circle cx="901" cy="433" r="8"/><text x="901" y="433">pi3k</text></g>
<g id="n-c3" class="n"><circle cx="771" cy="438" r="8"/><text x="771" y="438">c3</text></g>
<g id="n-esterase" class="n"><circle cx="715" cy="449" r="8"/><text x="715" y="449">esterase</text></g>
<g id="n-histone" class="n"><circle cx="816" cy="457" r="8"/><text x="816" y="457">histone</text></g>
<g id="n-chitosan" class="n"><circle cx="899" cy="454" r="8"/><text x="899" y="454">chitosan</text></g>
<g id="n-cox2" class="n"><circle cx="653" cy="467" r="8"/><text x="653" y="467">cox-2</text></g>
<g id="n-kinase" class="n"><circle cx="742" cy="467" r="8"/><text x="742" y="467">kinase</text></g>
<g id="n-kinases" class="n"><circle cx="720" cy="485" r="8"/><text x="720" y="485">kinases</text></g>
<g id="n-mapks" class="n"><circle cx="811" cy="486" r="8"/><text x="811" y="486">mapks</text></g>
<g id="n-chitin" class="n"><circle cx="753" cy="506" r="8"/><text x="753" y="506">chitin</text></g>
<g id="n-atm" class="n"><circle cx="855" cy="505" r="8"/><text x="855" y="505">atm</text></g>
<g id="n-a5" class="n"><circle cx="918" cy="503" r="8"/><text x="918" y="503">a5</text></g>
<g id="n-complement" class="n"><circle cx="663" cy="514" r="8"/><text x="663" y="514">complement</text></g>
<g id="n-bsa" class="n"><circle cx="888" cy="523" r="8"/><text x="888" y="523">bsa</text></g>
<g id="n-bovine" class="n"><circle cx="755" cy="533" r="8"/><text x="755" y="533">bovine serum albumin</text></g>
<g id="n-pk" class="n"><circle cx="642" cy="554" r="8"/><text x="642" y="554">protein kinase</text></g>
<g id="n-egfr" class="n"><circle cx="874" cy="554" r="8"/><text x="874" y="554">egfr</text></g>
<g id="n-mmp" class="n"><circle cx="912" cy="575" r="8"/><text x="912" y="575">mmp</text></g>
<g id="n-pkc2" class="n"><circle cx="769" cy="576" r="8"/><text x="769" y="576">protein kinase c</text></g>
<g id="n-chitinase" class="n"><circle cx="896" cy="596" r="8"/><text x="896" y="596">chitinase</text></g>
<g id="n-pcl" class="n f12"><circle cx="873" cy="235" r="11"/><text x="873" y="235">pcl</text></g>
<g id="n-pla" class="n f14"><circle cx="935" cy="235" r="11"/><text x="935" y="235">pla</text></g>
<g id="n-pmma" class="n f10"><circle cx="902" cy="256" r="9"/><text x="902" y="256">pmma</text></g>
<g id="n-nfkb2" class="n f9"><circle cx="720" cy="272" r="9"/><text x="720" y="272">nf-ßb</text></g>
<g id="n-alginate" class="n f9"><circle cx="805" cy="276" r="9"/><text x="805" y="276">alginate</text></g>
<g id="n-hap" class="n f9"><circle cx="684" cy="297" r="9"/><text x="684" y="297">hydroxyapatite</text></g>
<g id="n-mapk" class="n f9"><circle cx="844" cy="319" r="9"/><text x="844" y="319">mapk</text></g>
<g id="n-catalase" class="n f9"><circle cx="710" cy="338" r="9"/><text x="710" y="338">catalase</text></g>
<g id="n-p38" class="n f9"><circle cx="797" cy="340" r="9"/><text x="797" y="340">p38</text></g>
<g id="n-erk" class="n f9"><circle cx="835" cy="339" r="9"/><text x="835" y="339">erk</text></g>
<g id="n-alkphos" class="n f10"><circle cx="838" cy="362" r="10"/><text x="838" y="362">alkaline phosphatase</text></g>
<g id="n-titanium" class="n f11"><circle cx="750" cy="391" r="10"/><text x="750" y="391">titanium</text></g>
<g id="n-gold" class="n f10"><circle cx="548" cy="288" r="9"/><text x="548" y="288">gold</text></g>
<g id="n-polystyrene" class="n f10"><circle cx="632" cy="273" r="9"/><text x="632" y="273">polystyrene</text></g>
<g id="n-silicon" class="n f9"><circle cx="569" cy="354" r="9"/><text x="569" y="354">silicon</text></g>
<g id="n-tio2" class="n f9"><circle cx="615" cy="391" r="10"/><text x="615" y="392">titanium dioxide</text></g>
<g id="n-peroxidase" class="n f10"><circle cx="474" cy="402" r="9"/><text x="474" y="402">peroxidase</text></g>
<g id="n-sod" class="n f9"><circle cx="554" cy="409" r="9"/><text x="554" y="409">sod</text></g>
<g id="n-peg" class="n f11"><circle cx="625" cy="428" r="10"/><text x="625" y="428">polyethylene glycol</text></g>
<g id="n-graphene" class="n f10"><circle cx="894" cy="477" r="9"/><text x="894" y="477">graphene</text></g>
<g id="n-alp" class="n f11"><circle cx="968" cy="355" r="11"/><text x="968" y="355">alp</text></g>
<g id="n-akt" class="n f10"><circle cx="996" cy="409" r="10"/><text x="996" y="409">akt</text></g>
<g id="n-plga" class="n f14 big"><circle cx="1015" cy="429" r="12"/><text x="1015" y="429">plga</text></g>
<g id="n-ha" class="n f12 big"><circle cx="889" cy="411" r="11"/><text x="889" y="411">hyaluronic acid</text></g>
<g id="n-ti" class="n f17 big"><circle cx="824" cy="297" r="13"/><text x="824" y="297">ti</text></g>
<g id="n-sf" class="n f16 big"><circle cx="727" cy="408" r="13"/><text x="727" y="408">sodium fluoride</text></g>
<g id="n-silver" class="n f19 big"><circle cx="507" cy="268" r="14"/><text x="507" y="268">silver</text></g>
<g id="n-chromium" class="n f17 big"><circle cx="635" cy="318" r="13"/><text x="635" y="317">chromium</text></g>
<g id="n-cobalt" class="n f24 big"><circle cx="550" cy="317" r="15"/><text x="550" y="317">cobalt</text></g>
<g id="n-nickel" class="n f35 big"><circle cx="640" cy="343" r="18"/><text x="635" y="343">nickel</text></g>
<g id="n-magnesium" class="n f31 big"><circle cx="656" cy="371" r="17"/><text x="664" y="371">magnesium</text></g>
<g id="n-fibrin" class="n f19 big"><circle cx="918" cy="193" r="13"/><text x="920" y="195">fibrin</text></g>
<g id="n-elastin" class="n f18 big"><circle cx="1004" cy="159" r="12"/><text x="1004" y="160">elastin</text></g>
<g id="n-albumin" class="n f25 big"><circle cx="1067" cy="103" r="14"/><text x="1067" y="103">albumin</text></g>
</g>
</svg>
